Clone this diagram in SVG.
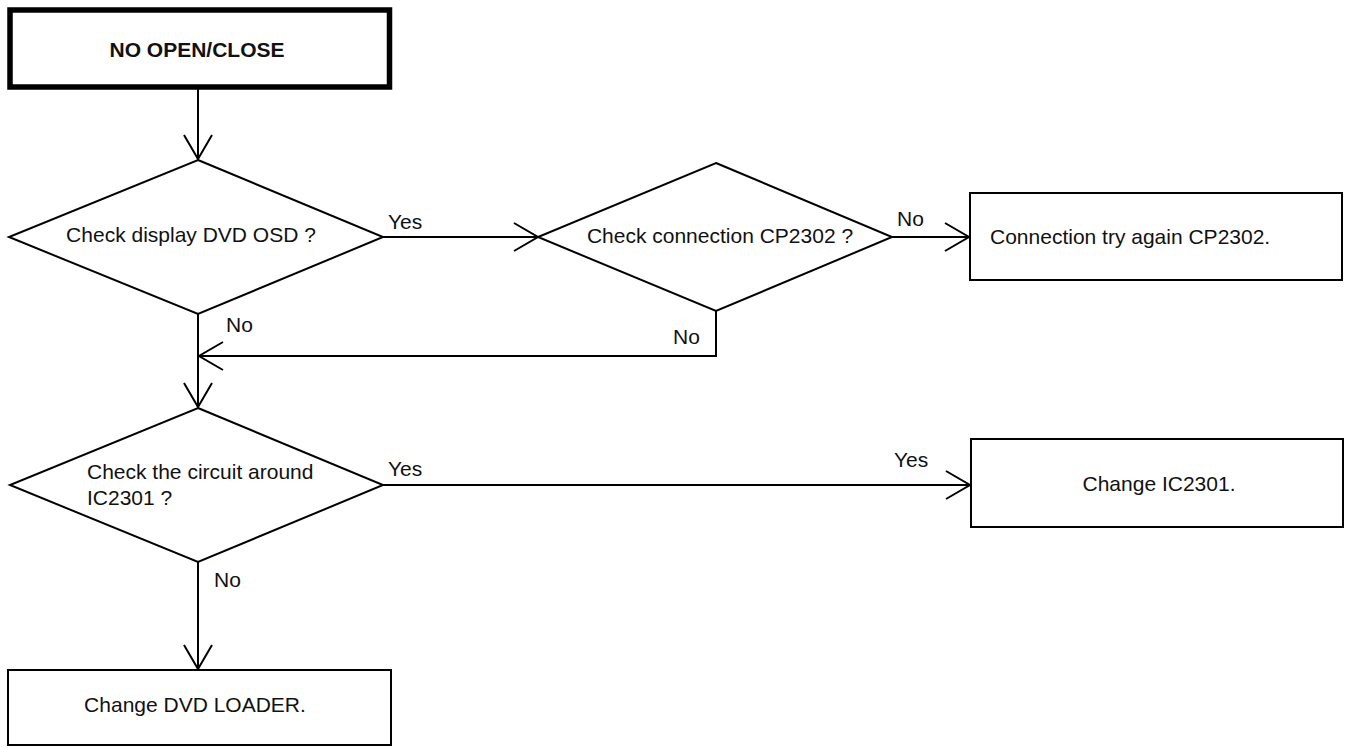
<svg xmlns="http://www.w3.org/2000/svg" width="1345" height="749" viewBox="0 0 1345 749">
<style>
.shape{fill:#fff;stroke:#000;stroke-width:2}
.thick{fill:#fff;stroke:#000;stroke-width:5.5}
.conn{fill:none;stroke:#000;stroke-width:2;marker-end:url(#arr)}
text{font-family:"Liberation Sans",Arial,sans-serif;font-size:21px;fill:#111}
.b{font-weight:bold;font-size:21px}
.m{text-anchor:middle}
</style>
<defs>
<marker id="arr" viewBox="-27 -16 30 32" markerUnits="userSpaceOnUse" markerWidth="30" markerHeight="32" refX="0" refY="0" orient="auto">
<path d="M-24,-14 L0,0 L-24,14" fill="none" stroke="#000" stroke-width="2"/>
</marker>
</defs>
<rect width="1345" height="749" fill="#fff"/>
<g id="connectors">
<path class="conn" d="M198,89 V159"/>
<path class="conn" d="M383,237 H538"/>
<path class="conn" d="M892,237 H969"/>
<path class="conn" d="M716,311 V356 H199"/>
<path class="conn" d="M198,314 V407"/>
<path class="conn" d="M383,485 H970"/>
<path class="conn" d="M198,562 V669"/>
<text x="388" y="229">Yes</text>
<text x="897" y="226">No</text>
<text x="673" y="344">No</text>
<text x="226" y="332">No</text>
<text x="388" y="476">Yes</text>
<text x="894" y="467">Yes</text>
<text x="214" y="587">No</text>
</g>
<g id="start">
<rect class="thick" x="10" y="10" width="379.5" height="77"/>
<text class="b m" x="197" y="57">NO OPEN/CLOSE</text>
</g>
<g id="d1">
<polygon class="shape" points="198,160 383,237 198,314 9,237"/>
<text class="m" x="191" y="242">Check display DVD OSD ?</text>
</g>
<g id="d2">
<polygon class="shape" points="716,163 892,237 716,311 538,237"/>
<text class="m" x="720" y="243">Check connection CP2302 ?</text>
</g>
<g id="b3">
<rect class="shape" x="970" y="193" width="372" height="87"/>
<text x="990" y="244">Connection try again CP2302.</text>
</g>
<g id="d3">
<polygon class="shape" points="198,408 383,485 198,562 10,485"/>
<text x="87" y="479">Check the circuit around</text>
<text x="87" y="505">IC2301 ?</text>
</g>
<g id="b5">
<rect class="shape" x="971" y="439" width="372" height="88"/>
<text class="m" x="1159" y="491">Change IC2301.</text>
</g>
<g id="b4">
<rect class="shape" x="8" y="670" width="383" height="75"/>
<text class="m" x="195" y="712">Change DVD LOADER.</text>
</g>
</svg>
